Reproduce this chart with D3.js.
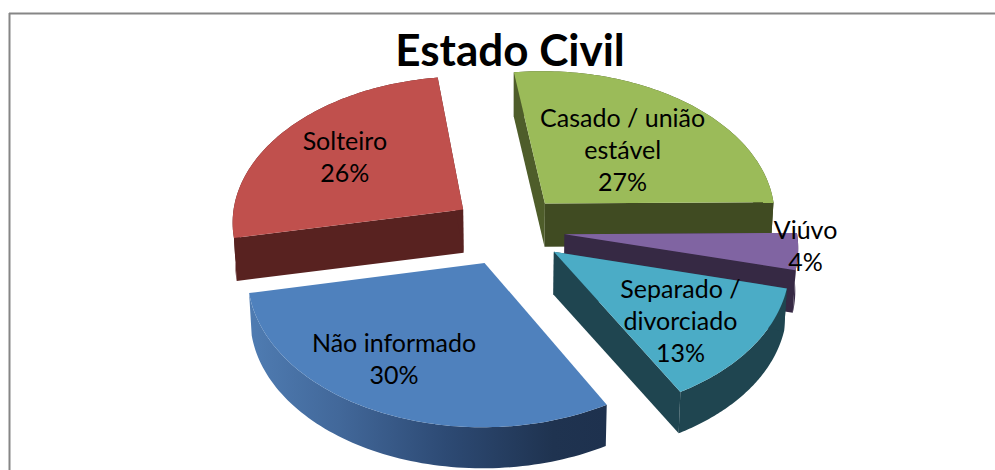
<!DOCTYPE html>
<html lang="pt">
<head>
<meta charset="utf-8">
<script src="https://cdn.jsdelivr.net/npm/d3@7"></script>
<style>
html,body{margin:0;padding:0;background:#fff;overflow:hidden}
svg{display:block}
text{font-family:Lato,"Open Sans",sans-serif;fill:#000}
</style>
</head>
<body>
<svg id="c" width="995" height="470"></svg>
<script>
// Data, in pie order (clockwise from the top)
const categories = ["Casado / união estável", "Viúvo", "Separado / divorciado", "Não informado", "Solteiro"];
const values = [27, 4, 13, 30, 26];
const labelLines = [["Casado / união", "estável"], ["Viúvo"], ["Separado /", "divorciado"], ["Não informado"], ["Solteiro"]];
const titleText = "Estado Civil";

// Style and layout
const topColors = ["#9bbb59", "#8064a2", "#4bacc6", "#4f81bd", "#c0504d"];
const rimColors = ["#404d22", "#3a2c4a", "#1f4550", "url(#rimBlue)", "#582220"];
const startWallColors = ["#4e5d2a", "#362944", "#1f4550", "none", "#582220"];
const endWallColors = ["#404b22", "#362944", "#1f4550", "none", "#582220"];
const labelNudges = [[-1, 4.5], [113, 3], [20, 18], [-33, 18], [-19, -8]];
const paintOrder = [4, 0, 1, 3, 2];

const svg = d3.select("#c");
const cx = 508.5, cy = 230, rx = 232, ry = 146.4;
const persp = 0.077, explode = 0.243, depth = 43, lowerScale = 0.99;
const startDeg = -7.7;

const sx = d3.scaleLinear().domain([-1, 1]).range([cx - rx, cx + rx]);
const sy = d3.scaleLinear().domain([-1, 1]).range([cy + ry, cy - ry]);

const pie = d3.pie().sort(null)
  .startAngle(startDeg * Math.PI / 180)
  .endAngle((startDeg + 360) * Math.PI / 180);
const arcs = pie(values);

function project(theta, r, bis, lower) {
  const lx = r * Math.sin(theta) + explode * Math.sin(bis);
  const ly = r * Math.cos(theta) + explode * Math.cos(bis);
  const w = 1 + persp * ly;
  let x = sx(lx / w), y = sy(ly / w);
  if (lower) {
    x = cx + (x - cx) * lowerScale;
    y = cy + (y - cy) * lowerScale + depth;
  }
  return [x, y];
}

const line = d3.line();
const defs = svg.append("defs");
const grad = defs.append("linearGradient").attr("id", "rimBlue");
[[0, "#4f7cb2"], [0.25, "#42689a"], [0.55, "#2d4a74"], [0.85, "#1f3350"], [1, "#1e314e"]]
  .forEach(([o, c]) => grad.append("stop").attr("offset", o).attr("stop-color", c));

const border = svg.append("g").attr("stroke", "#868686").attr("stroke-width", 2);
border.append("line").attr("x1", 9.5).attr("y1", 13).attr("x2", 9.5).attr("y2", 470);
border.append("line").attr("x1", 9).attr("y1", 13.5).attr("x2", 995).attr("y2", 13.5);

const g = svg.append("g");
paintOrder.forEach(i => {
  const a = arcs[i];
  const bis = (a.startAngle + a.endAngle) / 2;
  const n = 80;
  const thetas = d3.range(n + 1).map(k => a.startAngle + (a.endAngle - a.startAngle) * k / n);
  const upper = thetas.map(t => project(t, 1, bis, false));
  const lower = thetas.map(t => project(t, 1, bis, true));
  const apexU = project(0, 0, bis, false);
  const apexL = project(0, 0, bis, true);
  const s = g.append("g").attr("class", "slice").datum(categories[i]);
  s.append("path").attr("fill", rimColors[i])
    .attr("d", line(upper.concat(lower.slice().reverse())) + "Z");
  s.append("path").attr("fill", startWallColors[i])
    .attr("d", line([apexU, upper[0], lower[0], apexL]) + "Z");
  s.append("path").attr("fill", endWallColors[i])
    .attr("d", line([apexU, upper[n], lower[n], apexL]) + "Z");
  s.append("path").attr("fill", topColors[i])
    .attr("d", line([apexU].concat(upper)) + "Z");
});

const labelG = svg.append("g").attr("font-size", 25).attr("text-anchor", "middle");
arcs.forEach((a, i) => {
  const bis = (a.startAngle + a.endAngle) / 2;
  const [px, py] = project(bis, 0.55, bis, false);
  const lines = labelLines[i].concat([values[i] + "%"]);
  const lh = 32;
  const x = px + labelNudges[i][0];
  const y0 = py + labelNudges[i][1] - lh * (lines.length - 1) / 2;
  const t = labelG.append("text").attr("x", x).attr("y", y0);
  lines.forEach((l, k) => t.append("tspan").attr("x", x).attr("y", y0 + k * lh).attr("dy", "0.35em").text(l));
});

svg.append("text").attr("x", 510).attr("y", 66).attr("text-anchor", "middle")
  .attr("font-size", 44).attr("font-weight", 700).text(titleText);
</script>
</body>
</html>
